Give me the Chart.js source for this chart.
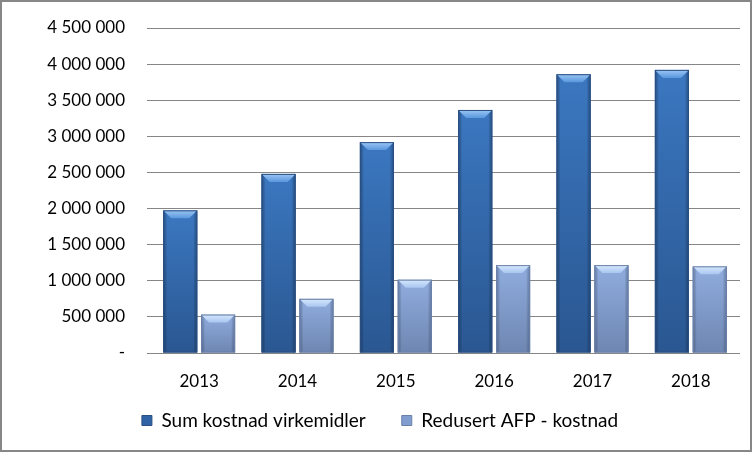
<!DOCTYPE html>
<html><head><meta charset="utf-8">
<script src="https://cdn.jsdelivr.net/npm/chart.js@4.4.0/dist/chart.umd.min.js"></script>
<style>
html,body{margin:0;padding:0;background:#fff;}
#wrap{position:relative;width:752px;height:452px;box-sizing:border-box;border:2px solid #878787;background:#fff;}
canvas{display:block;}
</style></head><body>
<div id="wrap"><canvas id="c" width="748" height="448"></canvas></div>
<script>
const years = ['2013', '2014', '2015', '2016', '2017', '2018'];
const sumKostnad = [1975000, 2480000, 2920000, 3365000, 3860000, 3920000];
const redusertAFP = [532000, 750000, 1015000, 1217000, 1217000, 1200000];
const seriesNames = ['Sum kostnad virkemidler', 'Redusert AFP - kostnad'];
const yMin = 0, yMax = 4500000, yStep = 500000;

const palettes = [
  {solid:'#2f63a6', top:'#3b77c0', bottom:'#2a5791', edge:'rgba(20,45,85,0.45)', hiTop:'#9cc6f5', hiBot:'#5a97dd', line:'#2a4f80'},
  {solid:'#819dd0', top:'#90addf', bottom:'#6e86b1', edge:'rgba(60,80,120,0.40)', hiTop:'#d6e8fd', hiBot:'#a9c6f0', line:'#6a80a8'}
];

function fmt(v){
  if (v === 0) return '-';
  return String(v).replace(/\B(?=(\d{3})+(?!\d))/g, ' ');
}

const LEG_PAD = 18, LEG_GAP = 36;

const legendSpacing = {
  id: 'legendSpacing',
  beforeLayout(chart){ chart.options.plugins.legend.labels.padding = LEG_PAD; },
  afterLayout(chart){
    const lg = chart.legend;
    if (!lg) return;
    lg.options.labels.padding = LEG_GAP;
    lg.top -= (LEG_GAP - LEG_PAD);
    lg.left -= (LEG_GAP - LEG_PAD);
  }
};

const bevelPlugin = {
  id: 'bevel',
  beforeDatasetsDraw(chart){
    const c = chart.ctx; c.save();
    c.shadowColor = 'rgba(0,0,0,0.35)'; c.shadowBlur = 5; c.shadowOffsetX = 1; c.shadowOffsetY = 1;
  },
  afterDatasetsDraw(chart){
    const c = chart.ctx; c.restore();
    chart.data.datasets.forEach((ds, i) => {
      const meta = chart.getDatasetMeta(i); const p = palettes[i];
      meta.data.forEach(el => {
        const {x, y, base, width} = el.getProps(['x','y','base','width'], true);
        const l = x - width/2, r = x + width/2, t = y, b = base, h = b - t;
        c.save();
        let g = c.createLinearGradient(0, t, 0, b);
        g.addColorStop(0, p.top); g.addColorStop(1, p.bottom);
        c.fillStyle = g; c.fillRect(l, t, width, h);
        const s = 4;
        let gl = c.createLinearGradient(l, 0, l + s, 0);
        gl.addColorStop(0, p.edge); gl.addColorStop(1, 'rgba(0,0,0,0)');
        c.fillStyle = gl; c.fillRect(l, t, s, h);
        let gr = c.createLinearGradient(r, 0, r - s, 0);
        gr.addColorStop(0, p.edge); gr.addColorStop(1, 'rgba(0,0,0,0)');
        c.fillStyle = gr; c.fillRect(r - s, t, s, h);
        const bv = Math.min(8, h/2);
        c.beginPath(); c.moveTo(l, t); c.lineTo(r, t); c.lineTo(r - bv, t + bv); c.lineTo(l + bv, t + bv); c.closePath();
        let gt = c.createLinearGradient(0, t, 0, t + bv);
        gt.addColorStop(0, p.hiTop); gt.addColorStop(1, p.hiBot);
        c.fillStyle = gt; c.fill();
        c.strokeStyle = p.line; c.lineWidth = 1;
        c.strokeRect(l + 0.5, t + 0.5, width - 1, h - 1);
        c.restore();
      });
    });
  }
};

const TICKFONT = {family: 'Lato', size: 17};
const LEGFONT = {family: 'Lato', size: 19};

new Chart(document.getElementById('c'), {
  type: 'bar',
  data: {
    labels: years,
    datasets: [
      {label: seriesNames[0], data: sumKostnad, backgroundColor: palettes[0].solid, borderColor: palettes[0].line, borderWidth: 1},
      {label: seriesNames[1], data: redusertAFP, backgroundColor: palettes[1].solid, borderColor: palettes[1].line, borderWidth: 1}
    ]
  },
  options: {
    responsive: false,
    animation: false,
    devicePixelRatio: 1,
    categoryPercentage: 0.77,
    barPercentage: 0.9,
    layout: {padding: {top: 0, right: 10, left: 0, bottom: 10}},
    plugins: {
      tooltip: {enabled: false},
      legend: {
        position: 'bottom',
        labels: {font: LEGFONT, color: '#000', boxWidth: 10, boxHeight: 10, padding: LEG_PAD}
      }
    },
    scales: {
      x: {
        grid: {display: false, drawTicks: false},
        border: {display: false},
        ticks: {font: TICKFONT, color: '#000', padding: 18},
        afterFit(scale){ scale.height = 40; }
      },
      y: {
        min: yMin, max: yMax,
        grid: {color: '#868686', lineWidth: 1, tickLength: 3, tickColor: '#868686'},
        border: {display: false},
        ticks: {stepSize: yStep, font: TICKFONT, color: '#000', padding: 22, callback: v => fmt(v)},
        afterFit(scale){ scale.width = 148; scale.paddingTop = 26; scale.paddingBottom = 10; }
      }
    }
  },
  plugins: [legendSpacing, bevelPlugin]
});
</script>
</body></html>
